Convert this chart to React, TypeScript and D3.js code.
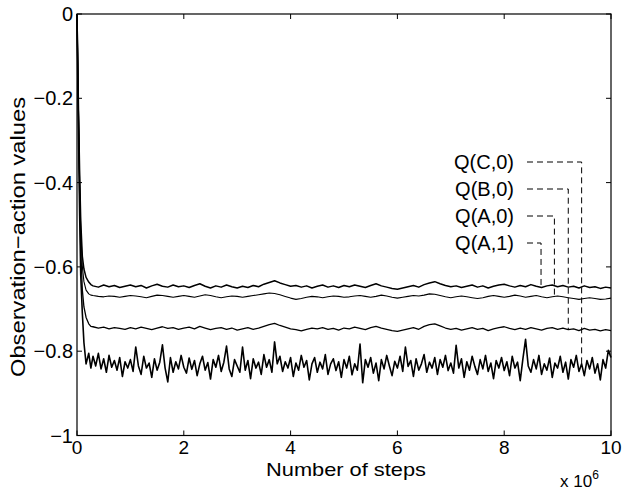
import React from 'react';
import * as d3 from 'd3';

// x values are in units of 10^6 steps
const headSteps = [0, 0.01, 0.03, 0.05, 0.07, 0.1, 0.13, 0.17, 0.22, 0.26];

// Q(A,1): top curve, settles near -0.645
const qA1Head = [0, -0.08, -0.24, -0.38, -0.49, -0.575, -0.605, -0.625, -0.636, -0.642];
const qA1 = [
  -0.645, -0.648, -0.643, -0.647, -0.644, -0.649, -0.646, -0.643,
  -0.647, -0.644, -0.650, -0.645, -0.641, -0.646, -0.648, -0.643, -0.647, -0.645,
  -0.649, -0.644, -0.640, -0.646, -0.650, -0.645, -0.648, -0.643, -0.647, -0.650,
  -0.646, -0.649, -0.644, -0.647, -0.641, -0.637, -0.633, -0.638, -0.642, -0.646,
  -0.644, -0.648, -0.645, -0.650, -0.646, -0.643, -0.648, -0.645, -0.649, -0.644,
  -0.647, -0.643, -0.646, -0.649, -0.644, -0.640, -0.645, -0.648, -0.651, -0.653,
  -0.650, -0.647, -0.644, -0.648, -0.642, -0.638, -0.635, -0.640, -0.644, -0.647,
  -0.645, -0.649, -0.646, -0.643, -0.648, -0.645, -0.650, -0.646, -0.643, -0.641,
  -0.645, -0.648, -0.644, -0.647, -0.642, -0.646, -0.649, -0.645, -0.643, -0.647,
  -0.644, -0.648, -0.646, -0.650, -0.645, -0.649, -0.647, -0.651, -0.648, -0.650,
];

// Q(A,0): smooth curve near -0.67
const qA0Head = [0, -0.08, -0.25, -0.4, -0.51, -0.6, -0.635, -0.655, -0.664, -0.667];
const qA0 = [
  -0.668, -0.670, -0.671, -0.669, -0.670, -0.672, -0.670, -0.668,
  -0.669, -0.671, -0.673, -0.670, -0.667, -0.668, -0.670, -0.672, -0.670, -0.668,
  -0.670, -0.672, -0.669, -0.666, -0.668, -0.671, -0.673, -0.671, -0.669, -0.670,
  -0.672, -0.670, -0.668, -0.666, -0.664, -0.662, -0.663, -0.666, -0.670, -0.674,
  -0.677, -0.675, -0.672, -0.670, -0.671, -0.673, -0.671, -0.669, -0.670, -0.672,
  -0.671, -0.669, -0.668, -0.670, -0.672, -0.670, -0.667, -0.669, -0.672, -0.674,
  -0.672, -0.670, -0.668, -0.669, -0.667, -0.664, -0.665, -0.668, -0.671, -0.673,
  -0.671, -0.669, -0.671, -0.673, -0.675, -0.673, -0.670, -0.668, -0.670, -0.672,
  -0.670, -0.667, -0.669, -0.672, -0.670, -0.668, -0.671, -0.673, -0.671, -0.669,
  -0.671, -0.673, -0.675, -0.677, -0.675, -0.673, -0.675, -0.677, -0.676, -0.674,
];

// Q(B,0): near -0.745
const qB0Head = [0, -0.09, -0.27, -0.43, -0.56, -0.655, -0.695, -0.72, -0.735, -0.741];
const qB0 = [
  -0.742, -0.745, -0.743, -0.747, -0.744, -0.746, -0.748, -0.744,
  -0.747, -0.743, -0.746, -0.749, -0.745, -0.742, -0.746, -0.744, -0.748, -0.745,
  -0.743, -0.747, -0.741, -0.745, -0.749, -0.746, -0.744, -0.748, -0.745, -0.750,
  -0.747, -0.744, -0.748, -0.745, -0.741, -0.737, -0.734, -0.739, -0.743, -0.747,
  -0.749, -0.752, -0.748, -0.745, -0.747, -0.744, -0.748, -0.746, -0.750, -0.745,
  -0.747, -0.743, -0.746, -0.749, -0.744, -0.741, -0.745, -0.748, -0.751, -0.753,
  -0.750, -0.747, -0.744, -0.748, -0.741, -0.737, -0.735, -0.740, -0.745, -0.748,
  -0.746, -0.750, -0.747, -0.744, -0.748, -0.746, -0.751, -0.747, -0.744, -0.742,
  -0.746, -0.749, -0.745, -0.748, -0.744, -0.747, -0.750, -0.746, -0.744, -0.748,
  -0.745, -0.749, -0.747, -0.751, -0.746, -0.750, -0.748, -0.752, -0.749, -0.751,
];

// Q(C,0): very noisy, near -0.83, sampled every 0.05
const qC0Head = [0, -0.1, -0.3, -0.48, -0.62, -0.71, -0.78, -0.83, -0.805, -0.84];
const qC0 = [
  -0.812, -0.835, -0.805, -0.842, -0.818, -0.85, -0.81, -0.838, -0.822, -0.845, -0.815, -0.86, -0.825, -0.84,
  -0.82, -0.848, -0.79, -0.835, -0.855, -0.812, -0.84, -0.828, -0.862, -0.818, -0.845, -0.826, -0.785, -0.84, -0.873, -0.815, -0.85, -0.825, -0.842, -0.81,
  -0.838, -0.852, -0.816, -0.843, -0.822, -0.858, -0.83, -0.812, -0.845, -0.827, -0.866, -0.82, -0.838, -0.81, -0.848, -0.826, -0.788, -0.842, -0.86, -0.82,
  -0.835, -0.85, -0.79, -0.845, -0.822, -0.865, -0.818, -0.84, -0.826, -0.855, -0.808, -0.838, -0.82, -0.85, -0.778, -0.83, -0.812, -0.848, -0.825, -0.84,
  -0.815, -0.86, -0.828, -0.845, -0.81, -0.838, -0.822, -0.868, -0.83, -0.815, -0.85, -0.826, -0.842, -0.808, -0.855, -0.83, -0.818, -0.846, -0.825, -0.862,
  -0.82, -0.84, -0.812, -0.856, -0.83, -0.845, -0.783, -0.875, -0.82, -0.838, -0.815, -0.852, -0.828, -0.87, -0.82, -0.842, -0.81, -0.835, -0.858, -0.824,
  -0.84, -0.812, -0.848, -0.79, -0.836, -0.822, -0.86, -0.818, -0.845, -0.83, -0.808, -0.85, -0.826, -0.84, -0.815, -0.855, -0.82, -0.838, -0.81, -0.846,
  -0.828, -0.852, -0.786, -0.84, -0.818, -0.862, -0.825, -0.845, -0.812, -0.836, -0.855, -0.82, -0.842, -0.81, -0.848, -0.828, -0.865, -0.822, -0.84, -0.815,
  -0.846, -0.825, -0.858, -0.812, -0.84, -0.826, -0.87, -0.818, -0.772, -0.835, -0.85, -0.82, -0.842, -0.81, -0.855, -0.83, -0.845, -0.816, -0.862, -0.828,
  -0.84, -0.812, -0.85, -0.826, -0.866, -0.82, -0.838, -0.81, -0.848, -0.83, -0.858, -0.822, -0.842, -0.815, -0.852, -0.83, -0.868, -0.82, -0.84, -0.798,
  -0.815,
];

const xTicks = [0, 2, 4, 6, 8, 10];
const yTicks = [0, -0.2, -0.4, -0.6, -0.8, -1];

const legendLabels = ['Q(C,0)', 'Q(B,0)', 'Q(A,0)', 'Q(A,1)'];

const W = 630, H = 491;
const left = 77, right = 611, top = 14, bottom = 435.5;
const font = 'Liberation Sans, Arial, Helvetica, sans-serif';

function build(head: number[], steady: number[], step: number): [number, number][] {
  const pts: [number, number][] = head.map((v, i) => [headSteps[i], v]);
  steady.forEach((v, i) => pts.push([0.3 + i * step, v]));
  return pts;
}

const fmt = (v: number) => (v === 0 ? '0' : (v < 0 ? '\u2212' : '') + String(Math.abs(v)));

export default function App() {
  const x = d3.scaleLinear().domain([0, 10]).range([left, right]);
  const y = d3.scaleLinear().domain([-1, 0]).range([bottom, top]);
  const line = d3.line<[number, number]>().x(d => x(d[0])).y(d => y(d[1]));

  const series = {
    'Q(A,1)': { pts: build(qA1Head, qA1, 0.1), w: 1.5 },
    'Q(A,0)': { pts: build(qA0Head, qA0, 0.1), w: 1.1 },
    'Q(B,0)': { pts: build(qB0Head, qB0, 0.1), w: 1.3 },
    'Q(C,0)': { pts: build(qC0Head, qC0, 0.05), w: 1.6 },
  } as Record<string, { pts: [number, number][]; w: number }>;

  // legend pointer columns (in 10^6 steps) and label rows (pixels)
  const pointerX = [9.45, 9.2, 8.94, 8.69];
  const rowY = [162, 189, 216, 243];
  const labelRight = 514;
  const dashStart = 527;

  const valueAt = (pts: [number, number][], xv: number) => {
    const i = d3.bisector((d: [number, number]) => d[0]).center(pts, xv);
    return pts[i][1];
  };

  return (
    <svg width={W} height={H} style={{ position: 'absolute', left: 0, top: 0, background: '#fff' }}
      fontFamily={font}>
      <rect width={W} height={H} fill="#fff" />
      {Object.entries(series).map(([k, s]) => (
        <path key={k} d={line(s.pts) || ''} fill="none" stroke="#000" strokeWidth={s.w}
          strokeLinejoin="round" />
      ))}

      {legendLabels.map((lab, i) => {
        const px = x(pointerX[i]);
        const py = y(valueAt(series[lab].pts, pointerX[i]));
        return (
          <g key={lab}>
            <text x={labelRight} y={rowY[i] + 7} textAnchor="end" fontSize={20}>{lab}</text>
            <path d={`M${dashStart},${rowY[i]}H${px}V${py}`} fill="none" stroke="#000"
              strokeWidth={1} strokeDasharray="6,4" />
          </g>
        );
      })}

      {/* frame */}
      <rect x={left} y={top} width={right - left} height={bottom - top} fill="none" stroke="#000" strokeWidth={1.2} />
      {xTicks.map(t => (
        <g key={'x' + t}>
          <line x1={x(t)} x2={x(t)} y1={bottom} y2={bottom - 5} stroke="#000" />
          <line x1={x(t)} x2={x(t)} y1={top} y2={top + 5} stroke="#000" />
          <text x={x(t)} y={454} textAnchor="middle" fontSize={19}>{t}</text>
        </g>
      ))}
      {yTicks.map(t => (
        <g key={'y' + t}>
          <line x1={left} x2={left + 5} y1={y(t)} y2={y(t)} stroke="#000" />
          <line x1={right} x2={right - 5} y1={y(t)} y2={y(t)} stroke="#000" />
          <text x={left - 4} y={y(t) + 7} textAnchor="end" fontSize={20}>{fmt(t)}</text>
        </g>
      ))}

      <text x={346} y={476} textAnchor="middle" fontSize={19}
        textLength={160} lengthAdjust="spacingAndGlyphs">Number of steps</text>
      <text x={560} y={487} fontSize={17}>x 10<tspan dy={-8} fontSize={12}>6</tspan></text>
      <text transform="translate(25,237) rotate(-90)" textAnchor="middle" fontSize={21}
        textLength={280} lengthAdjust="spacingAndGlyphs">
        Observation{'\u2212'}action values
      </text>
    </svg>
  );
}
